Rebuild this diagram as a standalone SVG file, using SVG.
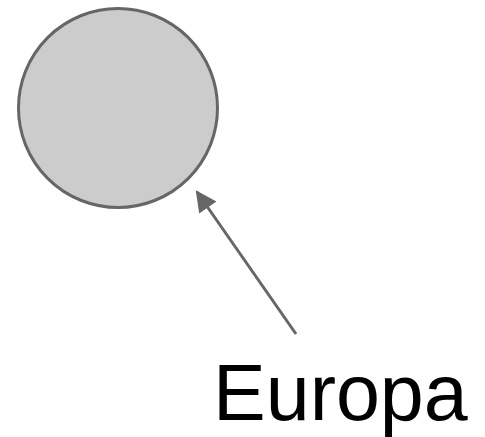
<svg xmlns="http://www.w3.org/2000/svg" width="485" height="437" viewBox="0 0 485 437">
<style>
.node{fill:#cccccc;stroke:#666666;stroke-width:3}
.conn{stroke:#666666;stroke-width:3;fill:none}
.lbl{font-family:"Liberation Sans",Arial,sans-serif;font-size:79px;fill:#000}
</style>
<defs>
<marker id="ah" viewBox="0 0 10 10" refX="9" refY="5" markerWidth="8" markerHeight="7" markerUnits="strokeWidth" orient="auto">
<path d="M0,0 L10,5 L0,10 z" fill="#666666"/>
</marker>
</defs>
<g id="circle"><circle class="node" cx="118" cy="108" r="99.5"/></g>
<g id="connectors"><line class="conn" x1="296" y1="334" x2="197" y2="192" marker-end="url(#ah)"/></g>
<g id="label"><text class="lbl" x="213" y="420">Europa</text></g>
</svg>
